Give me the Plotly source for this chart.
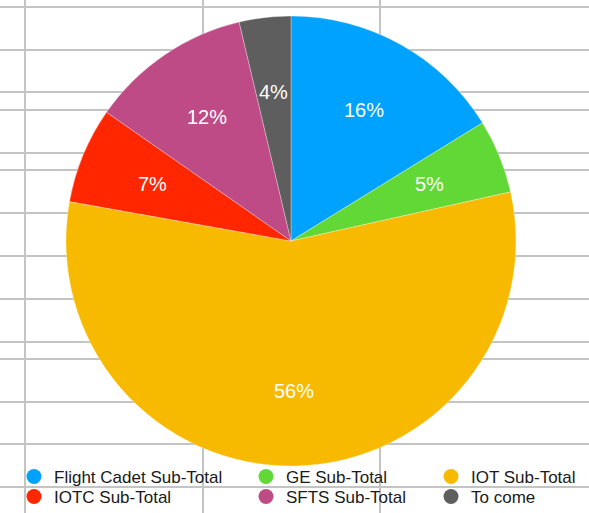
import math
import plotly.graph_objects as go

# Data
categories = ["Flight Cadet Sub-Total", "GE Sub-Total", "IOT Sub-Total",
              "IOTC Sub-Total", "SFTS Sub-Total", "To come"]
values = [16.2, 5.3, 56.3, 6.9, 11.6, 3.7]
colors = ["#00A2FF", "#61D836", "#F8BA00", "#FF2600", "#BE4B86", "#5E5E5E"]

# Background spreadsheet grid (pixel positions of the sheet cells)
W, H = 589, 513
grid_x = [25, 203, 380]
grid_y = [6.5, 50, 92, 110, 153, 170, 213, 256, 299, 342, 359, 402, 444, 487]

cx, cy, R = 291, 241, 225
label_r = R * 2 / 3

fig = go.Figure()

fig.add_trace(go.Pie(
    labels=categories,
    values=values,
    sort=False,
    direction="clockwise",
    rotation=0,
    marker=dict(colors=colors, line=dict(color="rgba(255,255,255,0.6)", width=0.5)),
    textinfo="none",
    showlegend=False,
    hoverinfo="label+percent",
    domain=dict(x=[(cx - R) / W, (cx + R) / W], y=[1 - (cy + R) / H, 1 - (cy - R) / H]),
))

# Percentage labels placed at 2/3 radius on each slice's mid-angle
total = sum(values)
cum = 0.0
for v in values:
    theta = 2 * math.pi * (cum + v / 2) / total
    cum += v
    fig.add_annotation(
        x=cx + label_r * math.sin(theta),
        y=cy - label_r * math.cos(theta),
        xref="x", yref="y",
        text=f"{round(100 * v / total)}%",
        showarrow=False,
        font=dict(color="white", size=20, family="Liberation Sans, Arial, sans-serif"),
    )

# Legend entries: one legend box per entry, laid out in 3 columns x 2 rows
col_px = [14, 246, 431]
row_px = [459, 479]
legend_keys = ["legend", "legend2", "legend3", "legend4", "legend5", "legend6"]
for i, (name, col) in enumerate(zip(categories, colors)):
    fig.add_trace(go.Scatter(
        x=[None], y=[None], mode="markers", name=name,
        marker=dict(color=col, size=15, symbol="circle"),
        legend=legend_keys[i], showlegend=True, hoverinfo="skip",
    ))

layout_legends = {}
for i, key in enumerate(legend_keys):
    layout_legends[key] = dict(
        orientation="v",
        yanchor="top",
        xanchor="left",
        x=col_px[i % 3] / W,
        y=1 - row_px[i // 3] / H,
        bgcolor="rgba(0,0,0,0)",
        borderwidth=0,
        itemsizing="trace",
        font=dict(size=17, color="#1a1a1a", family="Liberation Sans, Arial, sans-serif"),
    )

fig.update_layout(
    width=W, height=H,
    margin=dict(l=0, r=0, t=0, b=0, autoexpand=False),
    paper_bgcolor="white",
    plot_bgcolor="white",
    xaxis=dict(range=[0, W], tickvals=grid_x, showgrid=True, gridcolor="#c4c4c4",
               gridwidth=1.5, showticklabels=False, zeroline=False, showline=False,
               ticks="", fixedrange=True, automargin=False),
    yaxis=dict(range=[H, 0], tickvals=grid_y, showgrid=True, gridcolor="#c4c4c4",
               gridwidth=1.5, showticklabels=False, zeroline=False, showline=False,
               ticks="", fixedrange=True, automargin=False),
    **layout_legends,
)

fig.write_html(
    "out.html",
    config={"displayModeBar": False},
    post_script="document.body.style.margin='0';document.body.style.padding='0';",
)
